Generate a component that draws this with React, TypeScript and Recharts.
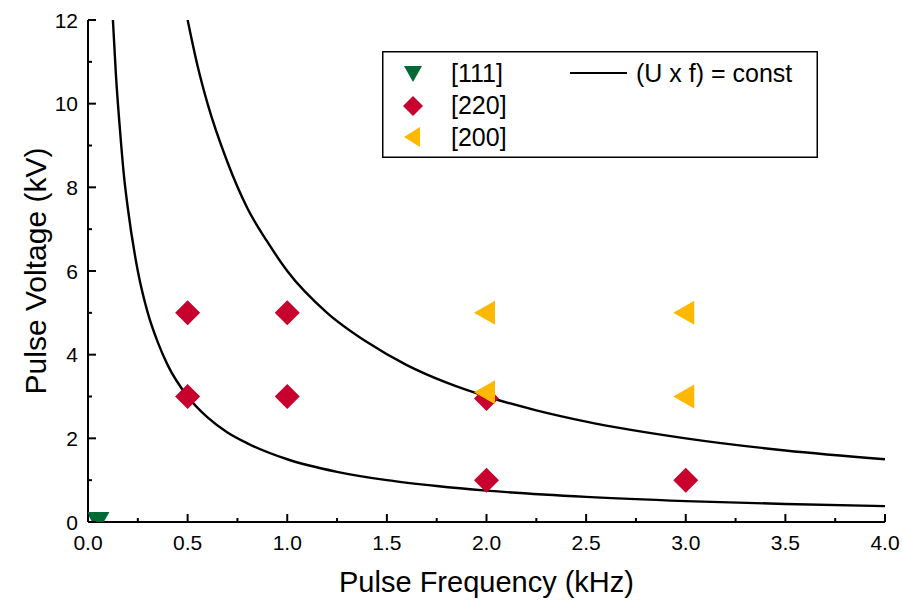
import { ComposedChart, Scatter, Line, XAxis, YAxis, Legend } from 'recharts';

// marker data
const freq111 = [0.05];
const volt111 = [0];
const freq220 = [0.5, 1.0, 0.5, 1.0, 2.0, 2.0, 3.0];
const volt220 = [5, 5, 3, 3, 2.95, 1, 1];
const freq200 = [2.0, 3.0, 2.0, 3.0];
const volt200 = [5, 5, 3.1, 3];

// (U x f) = const curves
const lowFreq = [0.125, 0.14, 0.16, 0.18, 0.2, 0.25, 0.3, 0.35, 0.4, 0.5, 0.6, 0.7, 0.8, 1.0, 1.25, 1.5, 1.75, 2.0, 2.5, 3.0, 3.5, 4.0];
const lowVolt = [12, 10.7, 9.4, 8.3, 7.5, 6, 5, 4.3, 3.75, 3, 2.5, 2.14, 1.88, 1.5, 1.2, 1.0, 0.86, 0.75, 0.6, 0.5, 0.43, 0.38];
const highFreq = [0.5, 0.55, 0.6, 0.7, 0.8, 0.9, 1.0, 1.2, 1.4, 1.6, 1.8, 2.0, 2.25, 2.5, 3.0, 3.5, 4.0];
const highVolt = [12, 10.9, 10, 8.6, 7.5, 6.7, 6, 5, 4.3, 3.75, 3.33, 3, 2.67, 2.4, 2.0, 1.71, 1.5];

const xMajor = [0, 0.5, 1.0, 1.5, 2.0, 2.5, 3.0, 3.5, 4.0];
const xMinor = [0.25, 0.75, 1.25, 1.75, 2.25, 2.75, 3.25, 3.75];
const yMajor = [0, 2, 4, 6, 8, 10, 12];
const yMinor = [1, 3, 5, 7, 9, 11];

const GREEN = '#006a35';
const RED = '#c8002e';
const YELLOW = '#ffb800';

const pts = (xs: number[], ys: number[]) => xs.map((f, i) => ({ f, u: ys[i] }));
const xTicks = [...xMajor, ...xMinor].sort((a, b) => a - b);
const yTicks = [...yMajor, ...yMinor].sort((a, b) => a - b);

const tickLen = (major: boolean) => (major ? 8 : 4);

const BottomTick = (props: any) => {
  const { x, y, payload } = props;
  const major = xMajor.includes(payload.value);
  return (
    <g>
      <line x1={x} x2={x} y1={y} y2={y - tickLen(major)} stroke="#000" strokeWidth={2} />
      {major && (
        <text x={x} y={y + 28} textAnchor="middle" fontSize={21} fill="#000">
          {payload.value.toFixed(1)}
        </text>
      )}
    </g>
  );
};

const TopTick = (props: any) => {
  const { x, y, payload } = props;
  const major = xMajor.includes(payload.value);
  return <line x1={x} x2={x} y1={y} y2={y + tickLen(major)} stroke="#000" strokeWidth={2} />;
};

const LeftTick = (props: any) => {
  const { x, y, payload } = props;
  const major = yMajor.includes(payload.value);
  return (
    <g>
      <line x1={x} x2={x + tickLen(major)} y1={y} y2={y} stroke="#000" strokeWidth={2} />
      {major && (
        <text x={x - 10} y={y + 7.5} textAnchor="end" fontSize={21} fill="#000">
          {payload.value}
        </text>
      )}
    </g>
  );
};

const RightTick = (props: any) => {
  const { x, y, payload } = props;
  const major = yMajor.includes(payload.value);
  return <line x1={x} x2={x - tickLen(major)} y1={y} y2={y} stroke="#000" strokeWidth={2} />;
};

const triDown = (cx: number, cy: number, w: number, h: number) =>
  `${cx - w / 2},${cy - h / 2} ${cx + w / 2},${cy - h / 2} ${cx},${cy + h / 2}`;
const diamond = (cx: number, cy: number, r: number) =>
  `${cx},${cy - r} ${cx + r},${cy} ${cx},${cy + r} ${cx - r},${cy}`;
const triLeft = (cx: number, cy: number, w: number, h: number) =>
  `${cx + w / 2},${cy - h / 2} ${cx + w / 2},${cy + h / 2} ${cx - w / 2},${cy}`;

const GreenShape = (p: any) => <polygon points={triDown(p.cx, p.cy, 23, 20)} fill={GREEN} />;
const RedShape = (p: any) => <polygon points={diamond(p.cx, p.cy, 12.5)} fill={RED} />;
const YellowShape = (p: any) => <polygon points={triLeft(p.cx - 2, p.cy, 21, 24)} fill={YELLOW} />;

const LegendBox = () => (
  <svg width={436} height={107} style={{ display: 'block' }}>
    <rect x={0.75} y={0.75} width={434.5} height={105.5} fill="#fff" stroke="#000" strokeWidth={1.5} />
    <polygon points={triDown(31, 23, 18, 16)} fill={GREEN} />
    <text x={69} y={31} fontSize={25} fill="#000">[111]</text>
    <polygon points={diamond(31, 55, 10)} fill={RED} />
    <text x={69} y={63} fontSize={25} fill="#000">[220]</text>
    <polygon points={triLeft(30, 86, 16, 20)} fill={YELLOW} />
    <text x={69} y={95} fontSize={25} fill="#000">[200]</text>
    <line x1={188} x2={245} y1={22} y2={22} stroke="#000" strokeWidth={2} />
    <text x={254} y={31} fontSize={25} fill="#000">(U x f) = const</text>
  </svg>
);

export default function App() {
  return (
    <div style={{ position: 'absolute', left: 0, top: 0 }}>
      <ComposedChart
        width={902}
        height={600}
        margin={{ top: 20, right: 17, left: 0, bottom: 0 }}
        style={{ fontFamily: '"Liberation Sans", Arial, sans-serif', background: '#fff' }}
      >
        <XAxis
          dataKey="f"
          type="number"
          domain={[0, 4]}
          allowDataOverflow
          ticks={xTicks}
          interval={0}
          tickSize={0}
          tickMargin={0}
          tick={BottomTick}
          height={78}
          axisLine={{ stroke: '#000', strokeWidth: 2 }}
          label={{
            content: (p: any) => (
              <text
                x={p.viewBox.x + p.viewBox.width / 2}
                y={592}
                textAnchor="middle"
                fontSize={29}
                fill="#000"
              >
                Pulse Frequency (kHz)
              </text>
            ),
          }}
        />
        <XAxis
          xAxisId="top"
          orientation="top"
          dataKey="f"
          type="number"
          domain={[0, 4]}
          allowDataOverflow
          ticks={xTicks}
          interval={0}
          tickSize={0}
          tickMargin={0}
          tick={TopTick}
          height={0}
          axisLine={{ stroke: '#000', strokeWidth: 2 }}
        />
        <YAxis
          type="number"
          domain={[0, 12]}
          allowDataOverflow
          ticks={yTicks}
          interval={0}
          tickSize={0}
          tickMargin={0}
          tick={LeftTick}
          width={88}
          axisLine={{ stroke: '#000', strokeWidth: 2 }}
          label={{
            content: (p: any) => {
              const cy = p.viewBox.y + p.viewBox.height / 2;
              return (
                <text
                  x={46}
                  y={cy}
                  transform={`rotate(-90, 46, ${cy})`}
                  textAnchor="middle"
                  fontSize={30}
                  fill="#000"
                >
                  Pulse Voltage (kV)
                </text>
              );
            },
          }}
        />
        <YAxis
          yAxisId="right"
          orientation="right"
          type="number"
          domain={[0, 12]}
          allowDataOverflow
          ticks={yTicks}
          interval={0}
          tickSize={0}
          tickMargin={0}
          tick={RightTick}
          width={0}
          axisLine={{ stroke: '#000', strokeWidth: 2 }}
        />
        <Legend
          layout="horizontal"
          verticalAlign="middle"
          align="center"
          content={LegendBox}
          wrapperStyle={{ position: 'absolute', left: 382, top: 51, width: 436, height: 107 }}
        />
        <Scatter name="[111]" data={pts(freq111, volt111)} dataKey="u" shape={GreenShape} isAnimationActive={false} />
        <Scatter name="[220]" data={pts(freq220, volt220)} dataKey="u" shape={RedShape} isAnimationActive={false} />
        <Scatter name="[200]" data={pts(freq200, volt200)} dataKey="u" shape={YellowShape} isAnimationActive={false} />
        <Line
          data={pts(lowFreq, lowVolt)}
          dataKey="u"
          type="monotone"
          stroke="#000"
          strokeWidth={2.4}
          dot={false}
          activeDot={false}
          isAnimationActive={false}
        />
        <Line
          data={pts(highFreq, highVolt)}
          dataKey="u"
          type="monotone"
          stroke="#000"
          strokeWidth={2.4}
          dot={false}
          activeDot={false}
          isAnimationActive={false}
        />
      </ComposedChart>
    </div>
  );
}
